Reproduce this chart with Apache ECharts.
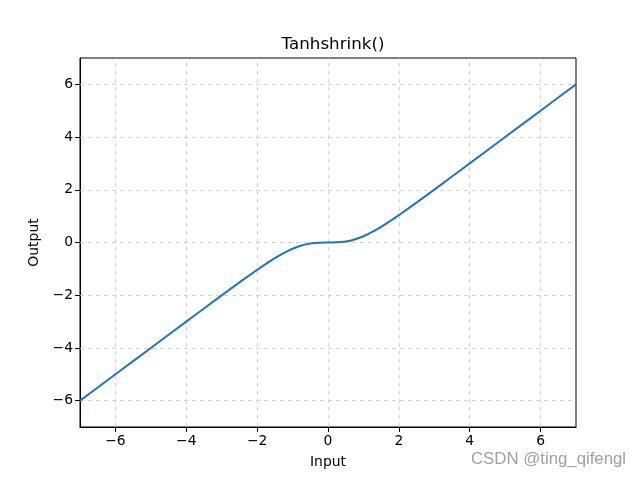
<!DOCTYPE html>
<html><head><meta charset="utf-8">
<script src="https://cdn.jsdelivr.net/npm/echarts@6/dist/echarts.min.js"></script>
<style>html,body{margin:0;padding:0;background:#fff}#c{width:640px;height:480px}</style>
</head><body><div id="c"></div>
<script>
const xValues = [-7, -6, -5, -4, -3.5, -3, -2.5, -2, -1.75, -1.5, -1.25, -1, -0.75, -0.5, -0.25, 0, 0.25, 0.5, 0.75, 1, 1.25, 1.5, 1.75, 2, 2.5, 3, 3.5, 4, 5, 6, 7];
const yValues = [-6.0, -5.0, -4.0, -3.001, -2.502, -2.005, -1.513, -1.036, -0.809, -0.595, -0.402, -0.238, -0.115, -0.038, -0.005, 0, 0.005, 0.038, 0.115, 0.238, 0.402, 0.595, 0.809, 1.036, 1.513, 2.005, 2.502, 3.001, 4.0, 5.0, 6.0];
const tickValues = [-6, -4, -2, 0, 2, 4, 6];
const titleText = 'Tanhshrink()';
const xLabel = 'Input';
const yLabel = 'Output';
const watermark = 'CSDN @ting_qifengl';

const fmt = v => (v < 0 ? '\u2212' + Math.abs(v) : String(v));
const font = 'DejaVu Sans';
const axisCommon = (name, gap) => ({
  type: 'value', min: -7, max: 7, interval: 1,
  name: name, nameLocation: 'middle', nameGap: gap,
  nameTextStyle: {fontFamily: font, fontSize: 13.9, color: '#000'},
  axisLine: {show: true, onZero: false, lineStyle: {color: '#000', width: 1}},
  axisTick: {show: true, length: 5, customValues: tickValues, lineStyle: {color: '#000'}},
  axisLabel: {show: true, customValues: tickValues, formatter: fmt, fontFamily: font, fontSize: 13.9, color: '#000', margin: 7},
  splitLine: {show: false}
});
const chart = echarts.init(document.getElementById('c'));
const gridLinesX = tickValues.map(v => ({xAxis: v}));
const gridLinesY = tickValues.map(v => ({yAxis: v}));
chart.setOption({
  animation: false,
  title: {text: titleText, left: 328, top: 31, textAlign: 'center',
    textStyle: {fontFamily: font, fontSize: 16.7, fontWeight: 'normal', color: '#000'}},
  grid: {left: 80, right: 64, top: 58, bottom: 53, show: true, borderColor: '#000', borderWidth: 1, backgroundColor: 'transparent'},
  xAxis: axisCommon(xLabel, 28),
  yAxis: axisCommon(yLabel, 33),
  series: [{
    type: 'line', data: xValues.map((x, i) => [x, yValues[i]]),
    showSymbol: false, smooth: 0.3, lineStyle: {color: '#1f77b4', width: 2}, z: 3,
    markLine: {silent: true, symbol: 'none', label: {show: false},
      lineStyle: {color: '#c8c8c8', type: [4, 4], width: 0.8},
      data: gridLinesX.concat(gridLinesY), z: 1}
  }],
  graphic: [{type: 'text', left: 471, top: 451, style: {text: watermark, fontFamily: 'Liberation Sans', fontSize: 16.8, fill: '#a0a0a0'}}]
});
</script></body></html>
